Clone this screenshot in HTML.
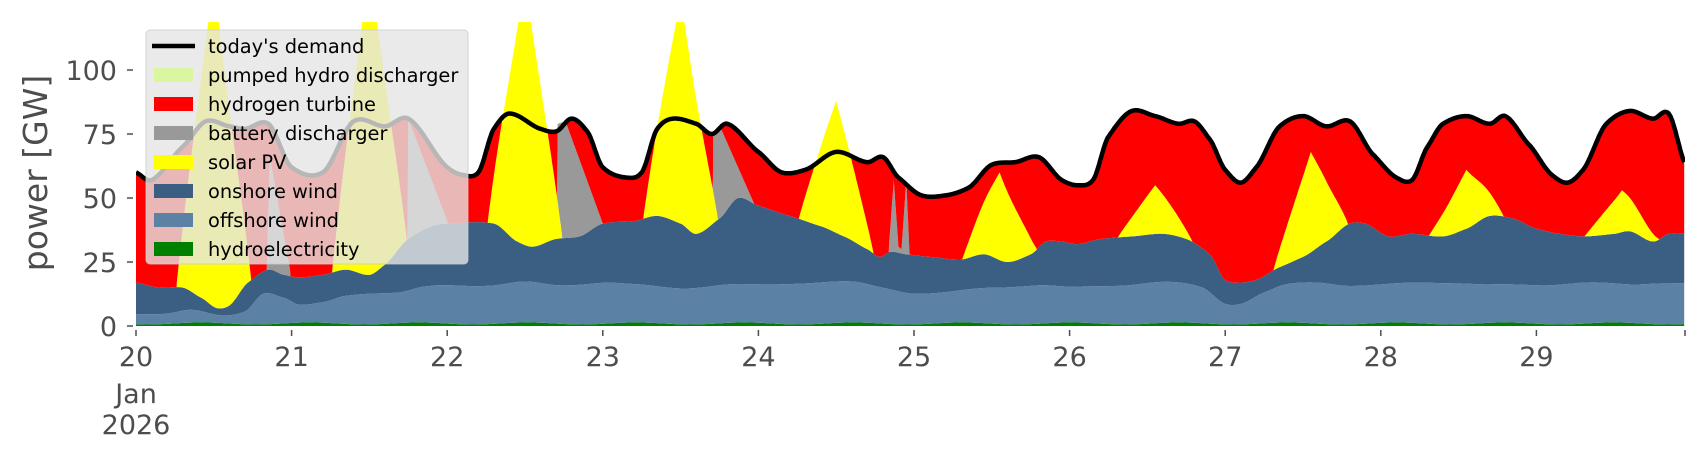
<!DOCTYPE html>
<html><head><meta charset="utf-8"><style>
body{margin:0;background:#fff;width:1706px;height:460px;overflow:hidden;font-family:"DejaVu Sans","Liberation Sans",sans-serif}
svg{display:block}
</style></head><body>
<svg id="s" width="1706" height="460" xmlns="http://www.w3.org/2000/svg">
<defs><clipPath id="c"><rect x="136" y="22" width="1549" height="305"/></clipPath></defs>
<g id="plot" clip-path="url(#c)"></g>
<g id="axes" font-family="DejaVu Sans, Liberation Sans, sans-serif" fill="#4d4d4d"></g>
<g id="leg"></g>
</svg>
<script>
const X=d=>136+(d-20)*155.6, Y=g=>326-g*2.56;
function interp(pts,t){
 let n=pts.length; if(t<=pts[0][0])return pts[0][1]; if(t>=pts[n-1][0])return pts[n-1][1];
 let i=0; while(pts[i+1][0]<t)i++;
 const p0=pts[Math.max(0,i-1)],p1=pts[i],p2=pts[i+1],p3=pts[Math.min(n-1,i+2)];
 const h=p2[0]-p1[0],s=(t-p1[0])/h;
 const m1=(p2[1]-p0[1])/(p2[0]-p0[0])*h*0.8, m2=(p3[1]-p1[1])/(p3[0]-p1[0])*h*0.8;
 const s2=s*s,s3=s2*s;
 return (2*s3-3*s2+1)*p1[1]+(s3-2*s2+s)*m1+(-2*s3+3*s2)*p2[1]+(s3-s2)*m2;
}
function lin(pts,t){let n=pts.length;if(t<=pts[0][0]||t>=pts[n-1][0])return 0;let i=0;while(pts[i+1][0]<t)i++;const a=pts[i],b=pts[i+1];return a[1]+(b[1]-a[1])*(t-a[0])/(b[0]-a[0]);}
const on=[[20,17],[20.15,15],[20.3,15],[20.42,11],[20.52,7],[20.6,8],[20.72,17],[20.85,22],[20.95,20],[21.05,19],[21.2,20],[21.35,22],[21.5,20],[21.6,24],[21.75,34],[21.9,39],[22.0,40],[22.3,40],[22.45,33],[22.55,31],[22.7,34],[22.85,35],[23.0,40],[23.2,41],[23.35,43],[23.5,40],[23.6,36],[23.75,42],[23.87,50],[24.0,47],[24.2,43],[24.4,39],[24.55,35],[24.7,30],[24.78,27],[24.85,29],[24.95,28],[25.1,27],[25.3,26],[25.45,28],[25.6,25],[25.75,28],[25.85,33],[25.95,33],[26.05,32],[26.2,34],[26.4,35],[26.6,36],[26.75,34],[26.9,28],[27.0,18],[27.1,17],[27.2,18],[27.35,23],[27.5,27],[27.65,33],[27.8,40],[27.9,40],[28.05,35],[28.2,36],[28.4,35],[28.55,38],[28.7,43],[28.85,42],[29.0,38],[29.15,36],[29.3,35],[29.5,36],[29.6,37],[29.75,33],[29.85,36],[29.95,36]];
const off=[[20,4],[20.2,4],[20.35,5],[20.55,3],[20.7,5],[20.82,12],[20.95,10],[21.05,7],[21.2,8],[21.35,11],[21.5,12],[21.7,12],[21.85,14],[22,15],[22.3,15],[22.5,16],[22.7,15],[23,16],[23.2,15],[23.5,14],[23.8,15],[24,15],[24.3,16],[24.6,16],[24.8,14],[25,12],[25.2,12],[25.5,14],[25.8,15],[26.0,14],[26.3,15],[26.6,16],[26.85,14],[27.0,8],[27.1,8],[27.25,12],[27.4,15],[27.6,16],[27.8,15],[28,15],[28.3,16],[28.5,16],[28.7,15],[29,15],[29.3,16],[29.6,15],[29.8,16],[29.95,16]];
const dem=[[20,60],[20.1,57],[20.3,70],[20.45,80],[20.6,78],[20.7,77],[20.85,79],[21.0,62],[21.2,60],[21.4,80],[21.6,78],[21.75,81],[22.0,62],[22.1,59],[22.2,60],[22.3,77],[22.4,83],[22.6,77],[22.7,76],[22.8,81],[22.9,76],[23.0,62],[23.15,58],[23.25,60],[23.35,77],[23.45,81],[23.6,79],[23.7,75],[23.8,79],[24,68],[24.15,60],[24.3,61],[24.5,68],[24.7,64],[24.8,66],[24.9,58],[25.05,51],[25.2,51],[25.35,54],[25.5,63],[25.65,64],[25.8,66],[25.95,57],[26.05,55],[26.15,57],[26.25,74],[26.4,84],[26.55,82],[26.7,79],[26.8,80],[26.9,73],[27,61],[27.1,56],[27.2,62],[27.35,78],[27.5,82],[27.65,78],[27.8,80],[27.95,67],[28.1,58],[28.2,57],[28.3,70],[28.4,79],[28.55,82],[28.7,79],[28.8,82],[28.95,71],[29.1,59],[29.2,56],[29.3,61],[29.45,79],[29.6,84],[29.75,81],[29.85,83],[29.95,64]];
const peaks={20:135,21:140,22:135,23:128,24:88,25:60,26:55,27:68,28:61,29:53};
const bat=[[[20.83,0],[20.84,22],[20.86,66],[20.99,22],[21.0,0]],[[21.74,0],[21.75,81],[22.0,41],[22.01,0]],[[22.70,0],[22.71,79],[22.76,80],[23.0,40],[23.01,0]],[[23.70,0],[23.71,76],[23.76,77],[24.0,44],[24.01,0]],[[24.83,0],[24.84,32],[24.87,57],[24.9,31],[24.92,30],[24.95,57],[24.97,30],[24.98,0]]];
const T=[];for(let t=20;t<=29.951;t+=0.0025)T.push(t);
const L={hy:[],of:[],on:[],so:[],ba:[],h2:[],de:[]};
for(const t of T){
 const hy=1+0.4*Math.sin(t*9);
 const ofT=hy+interp(off,t);
 const onT=Math.max(ofT,interp(on,t));
 const d=Math.floor(t),c=(d>=25?0.55:0.5),u=t-d-c;const w=0.24;
 let f=Math.max(0,1-Math.abs(u)/w);f=Math.pow(f,0.95);
 const pk=peaks[d]||0;const onPk=interp(on,d+c);
 const so=onT+Math.max(0,(pk-onPk))*f;
 let bt=0;for(const b of bat)bt=Math.max(bt,lin(b,t));
 const ba=Math.max(so,bt);
 const de=interp(dem,t);
 const h2=Math.max(ba,de);
 L.hy.push(hy);L.of.push(ofT);L.on.push(onT);L.so.push(so);L.ba.push(ba);L.h2.push(h2);L.de.push(de);
}
function band(lo,hi,col){
 let p='';for(let i=0;i<T.length;i++)p+=(i?'L':'M')+X(T[i]).toFixed(1)+' '+Y(hi[i]).toFixed(1);
 for(let i=T.length-1;i>=0;i--)p+='L'+X(T[i]).toFixed(1)+' '+Y(lo?lo[i]:0).toFixed(1);
 return `<path d="${p}Z" fill="${col}"/>`;
}
let g='';
g+=band(null,L.hy,'#008000');g+=band(L.hy,L.of,'#5b82a5');g+=band(L.of,L.on,'#3b5f82');
g+=band(L.on,L.so,'#ffff00');g+=band(L.so,L.ba,'#999999');g+=band(L.ba,L.h2,'#ff0000');
let p='';for(let i=0;i<T.length;i++)p+=(i?'L':'M')+X(T[i]).toFixed(1)+' '+Y(L.de[i]).toFixed(1);
g+=`<path d="${p}" fill="none" stroke="#000" stroke-width="4.5" stroke-linejoin="round"/>`;
document.getElementById('plot').innerHTML=g;
let a='';
[0,25,50,75,100].forEach(v=>{const y=Y(v);a+=`<line x1="127" x2="133" y1="${y}" y2="${y}" stroke="#4d4d4d" stroke-width="1.5"/><text x="117" y="${y+10}" font-size="27" text-anchor="end">${v}</text>`;});
for(let d=20;d<=30;d++){const x=X(d)>1685?1685:X(d);a+=`<line x1="${x}" x2="${x}" y1="330" y2="336" stroke="#4d4d4d" stroke-width="1.5"/>`;if(d<30)a+=`<text x="${X(d)}" y="366" font-size="27" text-anchor="middle">${d}</text>`;}
a+=`<text x="${X(20)}" y="403" font-size="27" text-anchor="middle">Jan</text><text x="${X(20)}" y="434" font-size="27" text-anchor="middle">2026</text>`;
a+=`<text transform="translate(47,173) rotate(-90)" font-size="33" text-anchor="middle">power [GW]</text>`;
document.getElementById('axes').innerHTML=a;
let l=`<rect x="146" y="30" width="322" height="234" rx="4" fill="#e5e5e5" fill-opacity="0.8" stroke="#cccccc" stroke-opacity="0.8"/>`;
const items=[['today\'s demand','line'],['pumped hydro discharger','#d9f7a1'],['hydrogen turbine','#ff0000'],['battery discharger','#999999'],['solar PV','#ffff00'],['onshore wind','#3b5f82'],['offshore wind','#5b82a5'],['hydroelectricity','#008000']];
items.forEach((it,i)=>{const y=46+i*29;
 if(it[1]=='line')l+=`<line x1="152" x2="195" y1="${y}" y2="${y}" stroke="#000" stroke-width="4.5"/>`;
 else l+=`<rect x="154" y="${y-7}" width="39" height="14" fill="${it[1]}"/>`;
 l+=`<text x="208" y="${y+7}" font-size="19.4" fill="#000" font-family="DejaVu Sans, Liberation Sans, sans-serif">${it[0]}</text>`;});
document.getElementById('leg').innerHTML=l;
</script>
</body></html>
